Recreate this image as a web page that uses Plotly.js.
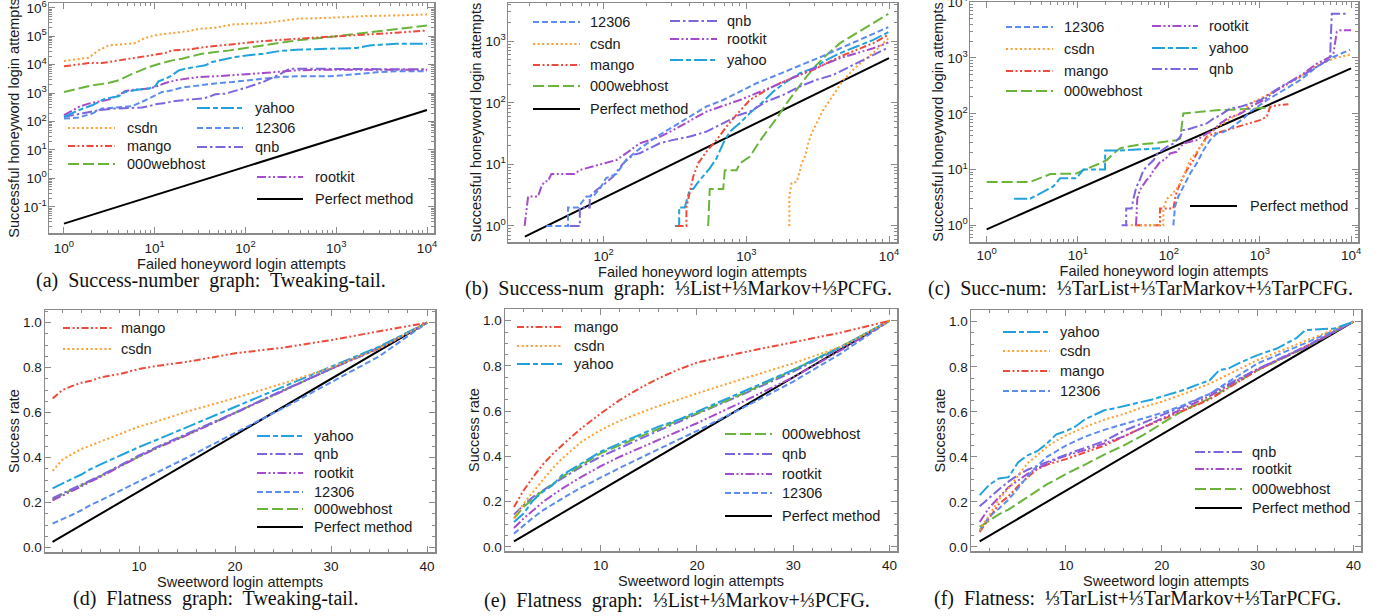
<!DOCTYPE html>
<html><head><meta charset="utf-8">
<script src="https://cdn.plot.ly/plotly-3.0.1.min.js"></script>
<style>html,body{margin:0;padding:0;background:#fff}#chart{width:1385px;height:616px}</style>
</head><body><div id="chart"></div>
<script>
// ---------- DATA: (a) Success-number graph: Tweaking-tail ----------
const a_csdn_x = [1, 1.87, 2.41, 3.1, 4.2, 6.1, 7.9, 11, 16.9, 23.7, 30.5, 46.5, 71, 108, 156, 238, 363, 846, 1972, 4590, 10000];
const a_csdn_y = [13500, 17600, 31900, 47700, 51700, 57500, 88500, 113000, 133000, 152000, 183000, 199000, 260000, 275000, 290000, 340000, 411000, 446000, 510000, 540000, 584000];
const a_mango_x = [1, 1.87, 2.62, 3.68, 5.6, 8.6, 13.1, 15.5, 23.7, 36.1, 55, 84, 108, 156, 363, 846, 1972, 4590, 10000];
const a_mango_y = [8750, 11400, 11400, 13500, 16200, 21300, 25700, 31900, 34500, 41700, 47700, 57500, 62400, 67700, 81600, 93500, 113000, 133000, 160000];
const a_w000_x = [1, 1.58, 2.04, 3.1, 4.0, 5.2, 6.65, 8.6, 12, 15.5, 20, 25.7, 33, 46.5, 67, 156, 363, 846, 1972, 4590, 10000];
const a_w000_y = [1100, 1560, 1880, 2270, 2820, 4220, 6000, 8300, 11400, 14200, 16200, 19600, 24300, 27800, 31900, 47700, 71400, 93500, 129000, 169000, 240000];
const a_yahoo_x = [1, 1.45, 2.04, 2.85, 4.0, 4.74, 6.65, 8.6, 10.1, 11, 13.1, 15.5, 18.4, 21.7, 28, 36.1, 42.8, 55, 77, 108, 156, 238, 363, 846, 1664, 2335, 4590, 10000];
const a_yahoo_y = [146, 250, 374, 641, 774, 1100, 1330, 1440, 1740, 2600, 3230, 4220, 6330, 7240, 8300, 9500, 12400, 15000, 18600, 21300, 24300, 30200, 33600, 36400, 38500, 47700, 54500, 54500];
const a_12306_x = [1, 1.45, 2.04, 2.62, 3.68, 5.6, 7.9, 10.1, 12, 15.5, 20, 25.7, 36.1, 50.6, 71, 108, 156, 238, 363, 846, 1972, 3008, 4590, 10000];
const a_12306_y = [127, 138, 191, 286, 310, 345, 561, 840, 1100, 1260, 1560, 1740, 2040, 2270, 2470, 2820, 3230, 3690, 3900, 3900, 4830, 5530, 5840, 5840];
const a_qnb_x = [1, 1.58, 2.41, 3.68, 5.6, 7.2, 8.6, 10.1, 13.1, 16.9, 23.7, 33.2, 39.3, 46.5, 60, 77, 102, 156, 238, 307, 555, 846, 10000];
const a_qnb_y = [146, 191, 250, 286, 310, 310, 345, 405, 452, 531, 591, 641, 733, 910, 960, 1190, 1560, 2470, 4580, 7240, 7240, 6860, 6860];
const a_rootkit_x = [1, 1.45, 1.87, 2.41, 3.1, 4.0, 4.74, 6.1, 8.6, 10.1, 13.1, 16.9, 23.7, 30.5, 46.5, 71, 108, 156, 363, 846, 10000];
const a_rootkit_y = [167, 327, 428, 490, 591, 840, 1190, 1330, 1440, 1650, 2270, 2820, 3230, 3690, 3900, 4220, 4580, 5100, 6330, 6680, 6680];
const a_perfect_x = [1, 10000];
const a_perfect_y = [0.0256, 256];

// ---------- DATA: (b) Success-num graph: 1/3 List + 1/3 Markov + 1/3 PCFG ----------
const b_12306_x = [39.6, 56.2, 56.2, 66, 75.5, 84, 93.7, 104, 123, 144, 179, 234, 307, 424, 525, 688, 900, 1178, 1542, 2019, 2643, 3460, 4530, 5930, 7760, 9890];
const b_12306_y = [1, 1, 2, 2, 3, 3, 4, 6, 7, 12, 18, 28, 41, 64, 87, 111, 152, 208, 267, 342, 439, 578, 761, 1000, 1315, 1690];
const b_csdn_x = [2000, 2000, 2075, 2248, 2350, 2440, 2575, 2716, 2866, 3105, 3460, 3855, 4295, 4786, 5321, 5930, 6966, 8186, 9890];
const b_csdn_y = [1, 3, 5, 5.2, 7.2, 10.4, 13.4, 22, 32, 47, 77, 111, 162, 236, 302, 388, 530, 722, 1119];
const b_mango_x = [324, 380, 380, 424, 459, 525, 618, 726, 853, 1059, 1387, 1718, 2372, 2943, 4530, 5930, 7760, 9890];
const b_mango_y = [1, 1, 2, 6.3, 10.4, 16.1, 25, 41, 64, 111, 162, 208, 284, 342, 563, 722, 929, 1267];
const b_w000_x = [540, 554, 688, 706, 853, 900, 1059, 1212, 1387, 1630, 1913, 2248, 2643, 3105, 3655, 4530, 5930, 7760, 9890];
const b_w000_y = [1, 4, 4, 8, 8, 10.4, 13.4, 22, 34, 56, 98, 162, 267, 413, 600, 929, 1349, 1959, 2780];
const b_yahoo_x = [315, 338, 338, 370, 402, 424, 472, 554, 618, 688, 766, 900, 1059, 1313, 1542, 1913, 2372, 2943, 3655, 4530, 5930, 7760, 9890];
const b_yahoo_y = [1, 1, 2, 2, 4, 4, 5.6, 8.6, 12.6, 22, 34, 47, 68, 105, 152, 221, 302, 364, 498, 638, 819, 1051, 1400];
const b_qnb_x = [57.7, 68, 68, 79.8, 79.8, 89, 99, 116, 137, 161, 179, 247, 307, 402, 525, 688, 900, 1059, 1387, 1813, 2372, 3105, 4064, 5321, 6966, 9890];
const b_qnb_y = [1, 1, 2, 2, 3, 3.85, 4.6, 6.3, 10.4, 14.3, 15.2, 22, 25, 28.3, 34, 47, 64, 72, 105, 134, 184, 236, 284, 388, 530, 789];
const b_rootkit_x = [27.9, 29.5, 34.6, 36.6, 38.6, 40.6, 43, 62.5, 68, 84, 104, 123, 144, 179, 247, 307, 525, 900, 1542, 2643, 4530, 7760, 9890];
const b_rootkit_y = [1, 3, 3, 4.4, 5.3, 5.3, 7, 7, 8.1, 9.2, 10.4, 11.8, 15.2, 22, 28, 36, 72, 111, 184, 321, 530, 770, 950];
const b_perfect_x = [28, 10000];
const b_perfect_y = [0.67, 530];

// ---------- DATA: (c) Succ-num: 1/3 TarList + 1/3 TarMarkov + 1/3 TarPCFG ----------
const c_12306_x = [112, 117, 127, 144, 171, 202, 239, 283, 335, 397, 469, 556, 658, 778, 921, 1186, 1807, 2754, 4198, 6400, 9750];
const c_12306_y = [1, 2.2, 3.3, 4.9, 8.5, 12.9, 22, 33.7, 44, 47, 54, 67, 82, 108, 133, 175, 264, 399, 690, 1042, 1409];
const c_csdn_x = [34, 87, 87, 95, 103, 127, 144, 171, 202, 239, 283, 335, 397, 469, 556, 658, 778, 921, 1186, 1807, 2754, 4198, 6400, 9750];
const c_csdn_y = [1, 1, 2, 3, 3.3, 4.9, 7.4, 14.8, 20.8, 29.3, 44, 58, 67, 82, 94, 116, 152, 175, 215, 303, 457, 740, 973, 1148];
const c_mango_x = [42.5, 80, 80, 112, 117, 122, 138, 157, 186, 220, 260, 308, 365, 431, 511, 604, 716, 847, 1002, 1186, 1237, 1291, 1527, 2051];
const c_mango_y = [1, 1, 2, 2, 3, 4, 6.5, 9.8, 14.8, 25.6, 38.6, 44, 47, 51, 54, 60, 65, 69, 77, 88, 108, 133, 142, 148];
const c_w000_x = [1, 3, 5.0, 9.7, 11.5, 14.8, 17.5, 20.8, 24.6, 29, 37.5, 52.5, 73, 122, 133, 144, 171, 335, 556, 778, 1186];
const c_w000_y = [6, 6, 8.3, 8.5, 9.8, 11.5, 12.9, 14.8, 19.4, 23.9, 26.3, 28.6, 30.1, 33.7, 36, 101, 104, 116, 119, 124, 129];
const c_yahoo_x = [2, 3, 5.4, 6.4, 9.7, 11.5, 19.9, 20, 29, 44, 80];
const c_yahoo_y = [3, 3, 5, 7, 7, 10, 10, 22, 22, 23, 24];
const c_qnb_x = [30.3, 34, 34, 39, 40.8, 44, 48, 52.5, 57, 68, 73, 80, 95, 112, 133, 144, 171, 220, 260, 308, 365, 469, 604, 778, 1002, 1291, 1807, 2754, 4198, 5878, 6135, 9350];
const c_qnb_y = [1, 1, 2, 2, 3, 4.9, 6.5, 9.8, 11.2, 14.8, 18.2, 20.8, 25.6, 29.3, 38.6, 51, 54, 62, 67, 82, 94, 124, 133, 152, 175, 230, 325, 457, 690, 973, 6210, 6210];
const c_rootkit_x = [43.6, 45, 48, 52.5, 57, 62, 68, 73, 80, 91, 103, 122, 144, 171, 202, 260, 308, 365, 469, 556, 658, 778, 1091, 1527, 2140, 2997, 4198, 5878, 6400, 6966, 7570, 10000];
const c_rootkit_y = [1, 3, 4.3, 5.3, 6.5, 7.4, 9.8, 11.2, 13.8, 15.2, 19.4, 20.8, 29.3, 31.4, 33.7, 44, 51, 67, 88, 94, 108, 133, 175, 264, 373, 525, 792, 1042, 1197, 2920, 3126, 3126];
const c_perfect_x = [1, 10000];
const c_perfect_y = [0.85, 650];

// ---------- DATA: (d) Flatness graph: Tweaking-tail ----------
const d_x = [1, 2, 3, 4, 5, 6, 8, 10, 12, 15, 20, 25, 30, 35, 40];
const d_mango = [0.663, 0.700, 0.718, 0.733, 0.742, 0.757, 0.772, 0.794, 0.809, 0.826, 0.864, 0.889, 0.923, 0.96, 1.0];
const d_csdn = [0.341, 0.39, 0.415, 0.438, 0.455, 0.472, 0.505, 0.538, 0.563, 0.605, 0.665, 0.73, 0.80, 0.885, 1.0];
const d_yahoo = [0.263, 0.285, 0.305, 0.325, 0.35, 0.37, 0.41, 0.447, 0.482, 0.535, 0.626, 0.715, 0.804, 0.893, 1.0];
const d_qnb = [0.22, 0.24, 0.26, 0.28, 0.30, 0.32, 0.365, 0.41, 0.45, 0.505, 0.60, 0.70, 0.795, 0.885, 1.0];
const d_rootkit = [0.21, 0.23, 0.25, 0.272, 0.295, 0.315, 0.36, 0.405, 0.445, 0.50, 0.598, 0.697, 0.795, 0.89, 1.0];
const d_12306 = [0.107, 0.125, 0.145, 0.166, 0.19, 0.21, 0.252, 0.295, 0.337, 0.40, 0.51, 0.62, 0.735, 0.85, 1.0];
const d_w000 = [0.215, 0.235, 0.255, 0.276, 0.298, 0.318, 0.362, 0.405, 0.447, 0.502, 0.60, 0.698, 0.795, 0.89, 1.0];
const d_perfect_x = [1, 40];
const d_perfect_y = [0.025, 1];

// ---------- DATA: (e) Flatness graph: 1/3 List + 1/3 Markov + 1/3 PCFG ----------
const e_x = [1, 2, 3, 4, 5, 6, 8, 10, 12, 14, 16, 18, 20, 25, 30, 35, 40];
const e_mango = [0.177, 0.25, 0.31, 0.365, 0.41, 0.45, 0.525, 0.59, 0.65, 0.70, 0.745, 0.783, 0.815, 0.862, 0.905, 0.948, 1.0];
const e_csdn = [0.126, 0.192, 0.244, 0.295, 0.347, 0.391, 0.465, 0.517, 0.558, 0.591, 0.623, 0.65, 0.679, 0.746, 0.812, 0.886, 1.0];
const e_yahoo = [0.111, 0.148, 0.207, 0.244, 0.273, 0.318, 0.369, 0.421, 0.458, 0.495, 0.532, 0.561, 0.598, 0.687, 0.783, 0.886, 1.0];
const e_w000 = [0.126, 0.177, 0.214, 0.248, 0.276, 0.31, 0.362, 0.414, 0.45, 0.487, 0.524, 0.558, 0.591, 0.682, 0.783, 0.886, 1.0];
const e_qnb = [0.143, 0.185, 0.222, 0.251, 0.278, 0.303, 0.355, 0.399, 0.436, 0.476, 0.514, 0.552, 0.588, 0.679, 0.775, 0.883, 1.0];
const e_rootkit = [0.084, 0.126, 0.162, 0.199, 0.229, 0.258, 0.31, 0.357, 0.399, 0.436, 0.473, 0.51, 0.547, 0.647, 0.75, 0.871, 1.0];
const e_12306 = [0.059, 0.096, 0.13, 0.162, 0.189, 0.214, 0.263, 0.307, 0.35, 0.391, 0.433, 0.473, 0.513, 0.62, 0.731, 0.857, 1.0];
const e_perfect_x = [1, 40];
const e_perfect_y = [0.025, 1];

// ---------- DATA: (f) Flatness: 1/3 TarList + 1/3 TarMarkov + 1/3 TarPCFG ----------
const f_yahoo_x = [1, 2, 3, 4, 5, 6, 7, 8, 9, 10, 11, 12, 13, 14, 15, 16, 17, 18, 19, 20, 22, 24, 25, 26, 27, 28, 30, 32, 34, 35, 38, 40];
const f_yahoo_y = [0.23, 0.276, 0.304, 0.31, 0.375, 0.407, 0.425, 0.459, 0.50, 0.514, 0.535, 0.567, 0.587, 0.607, 0.615, 0.625, 0.634, 0.643, 0.655, 0.668, 0.693, 0.725, 0.74, 0.785, 0.793, 0.815, 0.852, 0.881, 0.926, 0.963, 0.97, 1.0];
const f_x = [1, 2, 3, 4, 5, 6, 7, 8, 9, 10, 12, 14, 16, 18, 20, 22, 25, 30, 35, 40];
const f_csdn = [0.074, 0.145, 0.21, 0.26, 0.315, 0.372, 0.407, 0.444, 0.472, 0.495, 0.533, 0.565, 0.59, 0.62, 0.645, 0.675, 0.725, 0.83, 0.915, 1.0];
const f_mango = [0.067, 0.13, 0.19, 0.225, 0.27, 0.31, 0.345, 0.365, 0.378, 0.39, 0.42, 0.45, 0.49, 0.53, 0.565, 0.6, 0.655, 0.785, 0.89, 1.0];
const f_12306 = [0.074, 0.135, 0.17, 0.21, 0.26, 0.315, 0.36, 0.40, 0.425, 0.45, 0.49, 0.52, 0.545, 0.57, 0.595, 0.625, 0.68, 0.815, 0.905, 1.0];
const f_qnb = [0.181, 0.22, 0.255, 0.29, 0.32, 0.343, 0.36, 0.378, 0.395, 0.41, 0.44, 0.47, 0.515, 0.55, 0.585, 0.62, 0.68, 0.79, 0.89, 1.0];
const f_rootkit = [0.111, 0.175, 0.22, 0.265, 0.295, 0.325, 0.348, 0.37, 0.39, 0.405, 0.43, 0.46, 0.49, 0.53, 0.57, 0.61, 0.67, 0.79, 0.885, 1.0];
const f_w000 = [0.089, 0.118, 0.145, 0.166, 0.195, 0.222, 0.25, 0.278, 0.30, 0.324, 0.366, 0.41, 0.45, 0.495, 0.548, 0.6, 0.66, 0.785, 0.885, 1.0];
const f_perfect_x = [1, 40];
const f_perfect_y = [0.025, 1];

// ---------- Tick labels & text ----------
const logTickVals = [0.1, 1, 10, 100, 1000, 10000, 100000, 1000000];
const logTickText = ['10<sup>-1</sup>', '10<sup>0</sup>', '10<sup>1</sup>', '10<sup>2</sup>', '10<sup>3</sup>', '10<sup>4</sup>', '10<sup>5</sup>', '10<sup>6</sup>'];
const rateTickVals = [0, 0.2, 0.4, 0.6, 0.8, 1.0];
const rateTickText = ['0.0', '0.2', '0.4', '0.6', '0.8', '1.0'];
const attemptTickVals = [10, 20, 30, 40];
const attemptTickText = ['10', '20', '30', '40'];
const NAMES = {csdn: 'csdn', mango: 'mango', w000: '000webhost', yahoo: 'yahoo', d12306: '12306', qnb: 'qnb', rootkit: 'rootkit', perfect: 'Perfect method'};
const captions = [
  '(a)  Success-number  graph:  Tweaking-tail.',
  '(b)  Success-num  graph:  \u2153List+\u2153Markov+\u2153PCFG.',
  '(c)  Succ-num:  \u2153TarList+\u2153TarMarkov+\u2153TarPCFG.',
  '(d)  Flatness  graph:  Tweaking-tail.',
  '(e)  Flatness  graph:  \u2153List+\u2153Markov+\u2153PCFG.',
  '(f)  Flatness:  \u2153TarList+\u2153TarMarkov+\u2153TarPCFG.'
];

// ---------- Styles ----------
const COLORS = {csdn: '#ff9e2c', mango: '#ee4a3b', w000: '#6bb43c', yahoo: '#22a2dc', d12306: '#5b8cee', qnb: '#7b66de', rootkit: '#a54bcb', perfect: '#000000'};
const DASH = {csdn: '2px,2.6px', mango: '7px,2.5px,2px,2.5px,2px,2.5px', w000: '11px,4px', yahoo: '13px,3px,5px,3px', d12306: '6px,3px', qnb: '10px,3px,2.5px,3px', rootkit: '9px,2.5px,2px,2.5px,2px,2.5px', perfect: 'solid'};
const W = 1385, H = 616;
const SANS = 'Liberation Sans, Arial, Helvetica, sans-serif';
const SERIF = 'Liberation Serif, Times New Roman, serif';

function tr(x, y, key, ax) {
  return {x: x, y: y, type: 'scatter', mode: 'lines', name: NAMES[key], xaxis: 'x' + ax, yaxis: 'y' + ax,
    line: {color: COLORS[key], width: 2, dash: DASH[key]}, hoverinfo: 'skip', showlegend: false};
}
const data = [
  tr(a_perfect_x, a_perfect_y, 'perfect', ''), tr(a_12306_x, a_12306_y, 'd12306', ''), tr(a_qnb_x, a_qnb_y, 'qnb', ''),
  tr(a_rootkit_x, a_rootkit_y, 'rootkit', ''), tr(a_yahoo_x, a_yahoo_y, 'yahoo', ''), tr(a_w000_x, a_w000_y, 'w000', ''),
  tr(a_mango_x, a_mango_y, 'mango', ''), tr(a_csdn_x, a_csdn_y, 'csdn', ''),

  tr(b_perfect_x, b_perfect_y, 'perfect', '2'), tr(b_csdn_x, b_csdn_y, 'csdn', '2'), tr(b_w000_x, b_w000_y, 'w000', '2'),
  tr(b_yahoo_x, b_yahoo_y, 'yahoo', '2'), tr(b_mango_x, b_mango_y, 'mango', '2'), tr(b_qnb_x, b_qnb_y, 'qnb', '2'),
  tr(b_rootkit_x, b_rootkit_y, 'rootkit', '2'), tr(b_12306_x, b_12306_y, 'd12306', '2'),

  tr(c_perfect_x, c_perfect_y, 'perfect', '3'), tr(c_w000_x, c_w000_y, 'w000', '3'), tr(c_yahoo_x, c_yahoo_y, 'yahoo', '3'),
  tr(c_mango_x, c_mango_y, 'mango', '3'), tr(c_csdn_x, c_csdn_y, 'csdn', '3'), tr(c_12306_x, c_12306_y, 'd12306', '3'),
  tr(c_rootkit_x, c_rootkit_y, 'rootkit', '3'), tr(c_qnb_x, c_qnb_y, 'qnb', '3'),

  tr(d_perfect_x, d_perfect_y, 'perfect', '4'), tr(d_x, d_12306, 'd12306', '4'), tr(d_x, d_w000, 'w000', '4'),
  tr(d_x, d_rootkit, 'rootkit', '4'), tr(d_x, d_qnb, 'qnb', '4'), tr(d_x, d_yahoo, 'yahoo', '4'),
  tr(d_x, d_csdn, 'csdn', '4'), tr(d_x, d_mango, 'mango', '4'),

  tr(e_perfect_x, e_perfect_y, 'perfect', '5'), tr(e_x, e_12306, 'd12306', '5'), tr(e_x, e_rootkit, 'rootkit', '5'),
  tr(e_x, e_qnb, 'qnb', '5'), tr(e_x, e_w000, 'w000', '5'), tr(e_x, e_yahoo, 'yahoo', '5'),
  tr(e_x, e_csdn, 'csdn', '5'), tr(e_x, e_mango, 'mango', '5'),

  tr(f_perfect_x, f_perfect_y, 'perfect', '6'), tr(f_x, f_w000, 'w000', '6'), tr(f_x, f_mango, 'mango', '6'),
  tr(f_x, f_rootkit, 'rootkit', '6'), tr(f_x, f_qnb, 'qnb', '6'), tr(f_x, f_12306, 'd12306', '6'),
  tr(f_x, f_csdn, 'csdn', '6'), tr(f_yahoo_x, f_yahoo_y, 'yahoo', '6')
];

// ---------- Layout helpers ----------
const FRAME = '#8a8a8a';
function dom(p0, p1) { return [p0 / W, p1 / W]; }
function domY(top, bottom) { return [1 - bottom / H, 1 - top / H]; }
function minorLog(lo, hi) { const v = []; for (let e = lo; e <= hi; e++) for (let m = 2; m <= 9; m++) v.push(m * Math.pow(10, e)); return v; }
function steps(a, b, s) { const v = []; for (let t = a; t <= b + 1e-9; t += s) v.push(+t.toFixed(3)); return v; }
function baseAxis(extra) {
  return Object.assign({
    showline: true, linecolor: FRAME, linewidth: 1.5, mirror: 'ticks', ticks: 'inside', ticklen: 6, tickwidth: 1,
    tickcolor: FRAME, showgrid: false, zeroline: false, tickmode: 'array', automargin: false,
    ticklabeloverflow: 'allow', tickfont: {family: SANS, size: 13.5, color: '#1a1a1a'}
  }, extra);
}
function axTitle(text, standoff) {
  return {text: text, standoff: standoff, font: {family: SANS, size: 14.5, color: '#1a1a1a'}};
}
function logAxis(dm, anchor, rng, tv, titleText, lo, hi, so, tls) {
  const idx = tv.map(v => logTickVals.indexOf(v));
  return baseAxis({type: 'log', domain: dm, anchor: anchor, range: rng, tickvals: tv, ticktext: idx.map(i => logTickText[i]),
    ticklabelstandoff: tls,
    minor: {tickmode: 'array', tickvals: minorLog(lo, hi), ticks: 'inside', ticklen: 3, tickcolor: FRAME, showgrid: false},
    title: axTitle(titleText, so)});
}
function linAxis(dm, anchor, rng, tv, tt, mv, titleText, so, tls) {
  return baseAxis({type: 'linear', domain: dm, anchor: anchor, range: rng, tickvals: tv, ticktext: tt,
    ticklabelstandoff: tls,
    minor: {tickmode: 'array', tickvals: mv, ticks: 'inside', ticklen: 3, tickcolor: FRAME, showgrid: false},
    title: axTitle(titleText, so)});
}
const XF = 'Failed honeyword login attempts', YS = 'Successful honeyword login attempts';
const XW = 'Sweetword login attempts', YR = 'Success rate';

const layout = {
  width: W, height: H, margin: {l: 0, r: 0, t: 0, b: 0}, paper_bgcolor: '#fff', plot_bgcolor: '#fff', showlegend: false,
  font: {family: SANS, color: '#1a1a1a'},
  xaxis: logAxis(dom(49, 434), 'y', [-0.165, 4.077], [1, 10, 100, 1000, 10000], XF, 0, 4, 1, 2),
  yaxis: logAxis(domY(3, 233), 'x', [-1.92, 6.17], [0.1, 1, 10, 100, 1000, 10000, 100000, 1000000], YS, -2, 6, 0, -2),
  xaxis2: logAxis(dom(508, 897), 'y2', [1.329, 4.056], [100, 1000, 10000], XF, 1, 4, 0, 1),
  yaxis2: logAxis(domY(3, 242), 'x2', [-0.26, 3.62], [1, 10, 100, 1000], YS, -1, 3, 0, -2),
  xaxis3: logAxis(dom(970, 1358), 'y3', [-0.183, 4.076], [1, 10, 100, 1000, 10000], XF, 0, 4, 0, 0),
  yaxis3: logAxis(domY(2, 242), 'x3', [-0.298, 4.003], [1, 10, 100, 1000, 10000], YS, -1, 3, 0, -2),
  xaxis4: linAxis(dom(45, 435), 'y4', [0.21, 40.83], attemptTickVals, attemptTickText, steps(2, 40, 2), XW, 0, 1),
  yaxis4: linAxis(domY(310, 552), 'x4', [-0.0196, 1.0565], rateTickVals, rateTickText, steps(0, 1.05, 0.05), YR, 0, -1),
  xaxis5: linAxis(dom(505, 897), 'y5', [0.07, 40.77], attemptTickVals, attemptTickText, steps(2, 40, 2), XW, 0, 1),
  yaxis5: linAxis(domY(309, 551), 'x5', [-0.0177, 1.0518], rateTickVals, rateTickText, steps(0, 1.05, 0.05), YR, 0, -1),
  xaxis6: linAxis(dom(971, 1361), 'y6', [0.094, 40.79], attemptTickVals, attemptTickText, steps(2, 40, 2), XW, 0, 1),
  yaxis6: linAxis(domY(310, 551), 'x6', [-0.0178, 1.052], rateTickVals, rateTickText, steps(0, 1.05, 0.05), YR, 0, -1),
  shapes: [], annotations: []
};

// ---------- Legends (drawn as line samples + text) ----------
const legends = [
  {keys: ['csdn', 'mango', 'w000'], x0: 68, x1: 115, tx: 125, ys: [128, 146, 164]},
  {keys: ['yahoo', 'd12306', 'qnb'], x0: 197, x1: 243, tx: 253, ys: [108, 128, 147]},
  {keys: ['rootkit', 'perfect'], x0: 257, x1: 303, tx: 313, ys: [177, 199]},
  {keys: ['d12306', 'csdn', 'mango', 'w000', 'perfect'], x0: 533, x1: 580, tx: 588, ys: [22, 44, 65, 86, 109]},
  {keys: ['qnb', 'rootkit', 'yahoo'], x0: 670, x1: 717, tx: 725, ys: [21, 39, 60]},
  {keys: ['d12306', 'csdn', 'mango', 'w000'], x0: 1006, x1: 1053, tx: 1062, ys: [27, 49, 71, 91]},
  {keys: ['rootkit', 'yahoo', 'qnb'], x0: 1152, x1: 1198, tx: 1207, ys: [26, 48, 69]},
  {keys: ['perfect'], x0: 1190, x1: 1237, tx: 1248, ys: [206]},
  {keys: ['mango', 'csdn'], x0: 63, x1: 112, tx: 119, ys: [328, 349]},
  {keys: ['yahoo', 'qnb', 'rootkit', 'd12306', 'w000', 'perfect'], x0: 257, x1: 303, tx: 312, ys: [436, 454, 473, 492, 509, 527]},
  {keys: ['mango', 'csdn', 'yahoo'], x0: 517, x1: 563, tx: 572, ys: [327, 346, 364]},
  {keys: ['w000', 'qnb', 'rootkit', 'd12306', 'perfect'], x0: 725, x1: 772, tx: 780, ys: [434, 454, 474, 493, 516]},
  {keys: ['yahoo', 'csdn', 'mango', 'd12306'], x0: 1003, x1: 1050, tx: 1058, ys: [332, 351, 371, 391]},
  {keys: ['qnb', 'rootkit', 'w000', 'perfect'], x0: 1195, x1: 1242, tx: 1250, ys: [452, 469, 489, 508]}
];
legends.forEach(function (lg) {
  lg.keys.forEach(function (k, i) {
    const py = 1 - lg.ys[i] / H;
    layout.shapes.push({type: 'line', xref: 'paper', yref: 'paper', x0: lg.x0 / W, x1: lg.x1 / W, y0: py, y1: py,
      line: {color: COLORS[k], width: 2, dash: DASH[k]}});
    layout.annotations.push({xref: 'paper', yref: 'paper', x: lg.tx / W, y: py, xanchor: 'left', yanchor: 'middle',
      text: NAMES[k], showarrow: false, font: {family: SANS, size: 14.5, color: '#1a1a1a'}});
  });
});

// ---------- Captions ----------
const capPos = [[211, 280], [678, 289], [1140, 289], [215, 598], [677, 600], [1137, 598]];
captions.forEach(function (c, i) {
  layout.annotations.push({xref: 'paper', yref: 'paper', x: capPos[i][0] / W, y: 1 - capPos[i][1] / H,
    xanchor: 'center', yanchor: 'middle', text: c, showarrow: false, font: {family: SERIF, size: 20, color: '#111'}});
});

Plotly.newPlot('chart', data, layout, {staticPlot: true, displayModeBar: false});
</script>
</body></html>
